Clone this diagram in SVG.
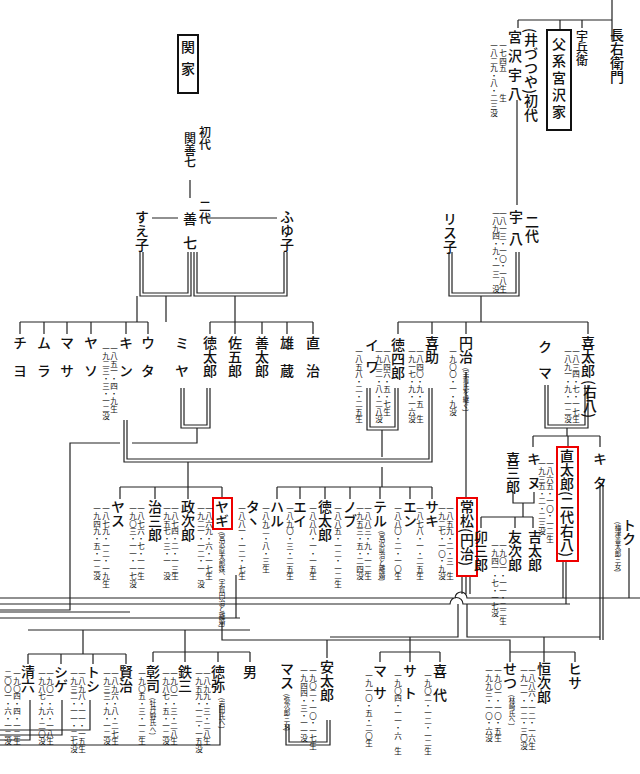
<svg xmlns="http://www.w3.org/2000/svg" width="640" height="774" viewBox="0 0 640 774">
<style>
text{font-family:"Noto Sans CJK JP","Noto Sans",sans-serif;writing-mode:vertical-rl;fill:#111}
.n{font-size:14px;font-weight:500}
.s{font-size:7.5px}
.m{font-size:6.5px}
.b{fill:none;stroke:#111;stroke-width:2}
.r{fill:none;stroke:#e00;stroke-width:2}
#c path,#c line{fill:none;stroke:#222;stroke-width:1.2}
</style>
<rect width="640" height="774" fill="#fff"/>
<g id="c">
<path d="M612 0V40M518 20H612M560 20V30M582 20V28M518 20V28"/>
<path d="M517 100V205"/>
<path d="M449 252V296H519V252M452 252V293H516V293V252M481 296V322"/>
<path d="M398 322H588M398 322V334M432 322V334M466 322V334M588 322V334"/>
<path d="M190 180V198M152 218H178M202 218H277"/>
<path d="M140 252V296H191V252M143 252V293H188V252M166 296V322"/>
<path d="M194 252V296H287V252M197 252V293H284V252M235 296V322"/>
<path d="M20 322H148M20 322V334M44 322V334M67 322V334M91 322V334M126 322V334M148 322V334M137 296V322"/>
<path d="M210 322H313M210 322V334M235 322V334M262 322V334M287 322V334M313 322V334"/>
<path d="M181 388V428H210V388M184 388V425H207V388M197 428V443H132M120 443H70V610H0"/>
<path d="M124 420V462H432V388M127 420V459H429V388M188 462V487"/>
<path d="M367 388V430H398V388M370 388V427H395V388M382 430V457M382 467V487"/>
<path d="M120 487H222M120 487V499M155 487V499M188 487V499M222 487V499"/>
<path d="M277 487H432M277 487V499M300 487V499M325 487V499M350 487V499M380 487V499M410 487V499M432 487V499"/>
<path d="M466 372V498"/>
<path d="M545 385V428H588V385M548 385V425H585V385M567 428V436M533 436H600M533 436V447M568 436V447M600 436V447"/>
<path d="M513 492V503H534V492M523 503V517M481 517H533M481 517V528M515 517V528M533 517V528"/>
<path d="M462 575V594M466 575V594M470 575V594"/>
<path d="M0 598H455A6 6 0 0 1 467 598H640M0 604H450A6 6 0 0 1 463 604H570"/>
<path d="M563 560V598M566 560V604"/>
<path d="M600 485V640M603 485V640M629 548V598"/>
<path d="M0 612H130M0 618H240M236 575V618"/>
<path d="M28 630H250M83 630V654M28 654H126M28 654V664M61 654V664M93 654V664M126 654V664"/>
<path d="M153 652H250M153 652V662M185 652V662M218 652V662M250 652V662M185 630V652"/>
<path d="M222 622V640H510V652M327 640V658"/>
<path d="M458 604V637H330M410 637V652M380 652H440M380 652V662M410 652V662M440 652V662"/>
<path d="M467 604V637H600M544 637V652M510 652H575M510 652V662M544 652V662M575 652V662"/>
<path d="M30 700V740H0M62 700V735H0M90 700V730H0M220 705V745H0"/>
<path d="M286 725V745H330V720M289 725V742H327V720"/>
</g>
<g id="top">
<text class="n" x="617" y="28">長右衛門</text>
<text class="n" x="582" y="30" style="font-size:12px">宇兵衛</text>
<rect x="547" y="30" width="24" height="100" class="b"/>
<text class="n" x="559" y="37" style="font-size:14px;letter-spacing:3px">父系宮沢家</text>
<text class="n" x="531" y="28">(井づつや)初代</text>
<text class="n" x="515" y="30" style="letter-spacing:5px">宮沢宇八</text>
<text class="s" x="503" y="42">一七四五　　　生</text>
<text class="s" x="494" y="42">一八二九・八・二三没</text>
</g>
<g id="udai2">
<text class="n" x="532" y="215">二代</text>
<text class="n" x="516" y="210" style="letter-spacing:8px">宇八</text>
<text class="s" x="503" y="210">一八一三・一〇・一八生</text>
<text class="s" x="496" y="210">一八九四・九・一三　没</text>
<text class="n" x="450" y="212">リス子</text>
</g>
<g id="seki">
<rect x="178" y="35" width="20" height="58" class="b"/>
<text class="n" x="188" y="40" style="letter-spacing:8px">関家</text>
<text class="n" x="205" y="126" style="font-size:12px">初代</text>
<text class="n" x="190" y="132" style="font-size:12px">関善七</text>
<text class="n" x="205" y="200" style="font-size:12px">二代</text>
<text class="n" x="190" y="212" style="letter-spacing:10px">善七</text>
<text class="n" x="142" y="210">すえ子</text>
<text class="n" x="287" y="210">ふゆ子</text>
</g>
<g id="row2">
<text class="n" x="20" y="336" style="letter-spacing:14px">チヨ</text>
<text class="n" x="44" y="336" style="letter-spacing:14px">ムラ</text>
<text class="n" x="67" y="336" style="letter-spacing:14px">マサ</text>
<text class="n" x="91" y="336" style="letter-spacing:14px">ヤソ</text>
<text class="n" x="126" y="336" style="letter-spacing:14px">キン</text>
<text class="s" x="114" y="345">一八五一・四・九生</text>
<text class="s" x="106" y="345">一九二三・三・一二没</text>
<text class="n" x="148" y="336" style="letter-spacing:14px">ウタ</text>
<text class="n" x="182" y="336" style="letter-spacing:14px">ミヤ</text>
<text class="n" x="210" y="336">徳太郎</text>
<text class="n" x="235" y="336">佐五郎</text>
<text class="n" x="262" y="336">善太郎</text>
<text class="n" x="287" y="336" style="letter-spacing:14px">雄蔵</text>
<text class="n" x="313" y="336" style="letter-spacing:14px">直治</text>
<text class="n" x="372" y="338" style="letter-spacing:8px">イワ</text>
<text class="s" x="359" y="348">一八五八・二・二五生</text>
<text class="n" x="398" y="338">徳四郎</text>
<text class="s" x="387" y="348">一八四六・五・七生</text>
<text class="s" x="379" y="348">一九二二・八・二八没</text>
<text class="n" x="432" y="336">喜助</text>
<text class="s" x="420" y="348">一八四〇・九・五　生</text>
<text class="s" x="412" y="348">一九一七・九・一六没</text>
<text class="n" x="466" y="336">円治</text>
<text class="m" x="466" y="368">(宇賀氏を継ぐ)</text>
<text class="s" x="453" y="348">一九〇〇・一・九没</text>
<text class="n" x="545" y="340" style="letter-spacing:12px">クマ</text>
<text class="n" x="588" y="336">喜太郎</text>
<text class="n" x="590" y="380">(右八)</text>
<text class="s" x="576" y="348">一八三四・七・一七生</text>
<text class="s" x="568" y="348">一八九一・九・一二没</text>
</g>
<g id="row3">
<text class="n" x="118" y="500">ヤス</text>
<text class="s" x="106" y="505">一八七九・一二・一九生</text>
<text class="s" x="97" y="505">一九四九・五・一二没</text>
<text class="n" x="155" y="500">治三郎</text>
<text class="s" x="141" y="505">一八七六・七・一一生</text>
<text class="s" x="133" y="505">一九〇三・一一・一七没</text>
<text class="n" x="188" y="500">政次郎</text>
<text class="s" x="175" y="505">一八七四・二・一三生</text>
<text class="s" x="167" y="505">一九五七・三・一　没</text>
<rect x="213" y="498" width="19" height="31" class="r"/>
<text class="n" x="222" y="500">ヤギ</text>
<text class="m" x="222" y="532">(宮沢直太郎妹、宇賀円治と離婚)</text>
<text class="s" x="209" y="505">一八六九・六・一七生</text>
<text class="s" x="201" y="505">一九二一・一二・一　没</text>
<text class="n" x="253" y="500">タヽ</text>
<text class="s" x="242" y="505">一八八一・一二・七生</text>
<text class="n" x="277" y="500">ハル</text>
<text class="s" x="266" y="505">一八九二・八・三生</text>
<text class="n" x="300" y="500">エイ</text>
<text class="s" x="290" y="505">一八九〇・三・二五生</text>
<text class="n" x="325" y="500">徳太郎</text>
<text class="s" x="313" y="505">一八八八・一・一五生</text>
<text class="n" x="350" y="500">ノブ</text>
<text class="s" x="338" y="505">一八八五・一二・一二生</text>
<text class="n" x="380" y="500">テル</text>
<text class="m" x="382" y="531">(宮沢直治と離婚)</text>
<text class="s" x="368" y="505">一八八三・九・一二生</text>
<text class="s" x="360" y="505">一九五三・五・二四没</text>
<text class="n" x="410" y="500">エン</text>
<text class="s" x="398" y="505">一八八〇・二・一〇生</text>
<text class="n" x="432" y="500">サキ</text>
<text class="s" x="420" y="505">一八七八・一・二五生</text>
<rect x="457" y="498" width="20" height="78" class="r"/>
<text class="n" x="467" y="500">常松(円治)</text>
<text class="s" x="450" y="505">一八五九・二・三　生</text>
<text class="s" x="442" y="505">一九二七・一〇・九没</text>
<text class="n" x="513" y="452">喜三郎</text>
<text class="n" x="534" y="452" style="letter-spacing:10px">キヌ</text>
<rect x="557" y="447" width="21" height="114" class="r"/>
<text class="n" x="567" y="449">直太郎(二代右八)</text>
<text class="s" x="550" y="460">一八六五・一〇・一二生</text>
<text class="s" x="542" y="460">一九三五・二・二三没</text>
<text class="n" x="600" y="452" style="letter-spacing:10px">キタ</text>
<text class="n" x="481" y="530">卯三郎</text>
<text class="n" x="515" y="530">友次郎</text>
<text class="s" x="503" y="542">一九〇一・一一・二二生</text>
<text class="s" x="495" y="542">一九四一・七・一七没</text>
<text class="n" x="535" y="530">吉太郎</text>
<text class="n" x="629" y="518">トク</text>
<text class="m" x="618" y="522">(梅津善太郎三女)</text>
</g>
<g id="row4">
<text class="n" x="28" y="665">清六</text>
<text class="s" x="17" y="670">一九〇四・四・一二生</text>
<text class="s" x="8" y="670">二〇〇一・六・一二没</text>
<text class="n" x="61" y="665">シゲ</text>
<text class="s" x="50" y="670">一九〇一・六・一八生</text>
<text class="s" x="42" y="670">一九八七・九・二〇没</text>
<text class="n" x="93" y="665">トシ</text>
<text class="s" x="82" y="670">一八九八・一一・一五生</text>
<text class="s" x="74" y="670">一九三二・一一・二七没</text>
<text class="n" x="126" y="665">賢治</text>
<text class="s" x="115" y="670">一八九六・八・二七生</text>
<text class="s" x="107" y="670">一九三三・九・一二没</text>
<text class="n" x="153" y="665">彰司</text>
<text class="m" x="153" y="698">(牡丹野氏へ)</text>
<text class="s" x="142" y="670">一九〇五・三・一二生</text>
<text class="n" x="185" y="665">鉄三</text>
<text class="s" x="174" y="670">一九〇一・三・二八生</text>
<text class="s" x="166" y="670">一九八七・五・一二没</text>
<text class="n" x="218" y="665">徳弥</text>
<text class="m" x="222" y="698">(岩田氏へ)</text>
<text class="s" x="207" y="670">一八九九・三・二八生</text>
<text class="s" x="199" y="670">一九五九・一二・一五没</text>
<text class="n" x="250" y="665">男</text>
<text class="n" x="287" y="662">マス</text>
<text class="m" x="287" y="694">(弥次郎三女)</text>
<text class="n" x="327" y="660">安太郎</text>
<text class="s" x="313" y="667">一九〇二・一〇・一七生</text>
<text class="s" x="304" y="667">一九四四・三・一一没</text>
<text class="n" x="380" y="664" style="letter-spacing:8px">マサ</text>
<text class="s" x="369" y="672">一九一〇・五・二〇生</text>
<text class="n" x="410" y="664" style="letter-spacing:8px">サト</text>
<text class="s" x="398" y="672">一九〇四・一一・六　生</text>
<text class="n" x="440" y="664" style="letter-spacing:10px">喜代</text>
<text class="s" x="428" y="672">一九〇二・一二・一二生</text>
<text class="n" x="510" y="662">せつ</text>
<text class="m" x="512" y="695">(林崎氏へ)</text>
<text class="s" x="498" y="667">一九〇一・一〇・五生</text>
<text class="s" x="489" y="667">一九九三・一〇・六没</text>
<text class="n" x="544" y="662">恒次郎</text>
<text class="s" x="532" y="667">一八八六・一二・一六生</text>
<text class="s" x="524" y="667">一九一一・一二・三〇没</text>
<text class="n" x="575" y="662">ヒサ</text>
</g>
</svg>
